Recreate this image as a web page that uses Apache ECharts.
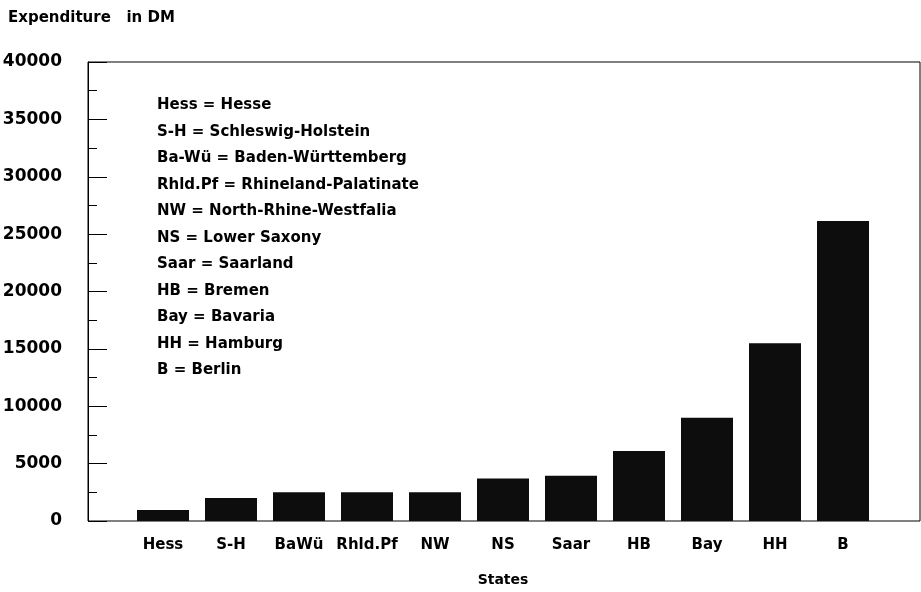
<!DOCTYPE html>
<html><head><meta charset="utf-8">
<script src="https://cdn.jsdelivr.net/npm/echarts@6/dist/echarts.min.js"></script>
<style>html,body{margin:0;padding:0;background:#fff}#c{width:921px;height:592px}</style>
</head><body><div id="c"></div>
<script>
const categories = ['Hess','S-H','BaWü','Rhld.Pf','NW','NS','Saar','HB','Bay','HH','B'];
const expenditure = [950, 2000, 2500, 2500, 2500, 3700, 3950, 6100, 9000, 15500, 26150];
const keyLines = [
  'Hess = Hesse',
  'S-H = Schleswig-Holstein',
  'Ba-Wü = Baden-Württemberg',
  'Rhld.Pf = Rhineland-Palatinate',
  'NW = North-Rhine-Westfalia',
  'NS = Lower Saxony',
  'Saar = Saarland',
  'HB = Bremen',
  'Bay = Bavaria',
  'HH = Hamburg',
  'B = Berlin'
];
const yMin = 0, yMax = 40000, yStep = 5000;
const FONT = '"DejaVu Sans", "Liberation Sans", Arial, sans-serif';
const chart = echarts.init(document.getElementById('c'), null, {renderer:'canvas'});
chart.setOption({
  animation: false,
  backgroundColor: '#fff',
  title: [
    {text: 'Expenditure   in DM', left: 3, top: 6, textStyle:{fontFamily:FONT, fontWeight:'bold', fontSize:15, color:'#000'}},
    {text: keyLines.join('\n'), left: 152, top: 87, textStyle:{fontFamily:FONT, fontWeight:'bold', fontSize:15, lineHeight:26.5, color:'#000'}}
  ],
  grid: [
    {left: 88, right: 1, top: 62, bottom: 71, show: true, borderColor: '#000', borderWidth: 1, outerBoundsMode: 'none', containLabel: false},
    {left: 129, right: 44, top: 62, bottom: 71, outerBoundsMode: 'none', containLabel: false}
  ],
  xAxis: [
    {gridIndex: 0, type: 'value', min: 0, max: 1, show: false},
    {gridIndex: 1, type: 'category', data: categories,
     axisLine:{show:false}, axisTick:{show:false},
     axisLabel:{interval: 0, margin: 17, fontFamily:FONT, fontWeight:'bold', fontSize:15, color:'#000'},
     name: 'States', nameLocation: 'middle', nameGap: 52,
     nameTextStyle:{fontFamily:FONT, fontWeight:'bold', fontSize:14, color:'#000'}}
  ],
  yAxis: [
    {gridIndex: 0, type: 'value', min: yMin, max: yMax, interval: yStep,
     axisLine:{show:true, lineStyle:{color:'#000', width:1}},
     axisTick:{show:true, inside:true, length:19, lineStyle:{color:'#000'}},
     minorTick:{show:true, splitNumber:2, length:9, lineStyle:{color:'#000'}},
     splitLine:{show:false},
     axisLabel:{margin: 26, padding:[4,0,0,0], fontFamily:FONT, fontWeight:'bold', fontSize:17, color:'#000',
       formatter: function(v){ return String(v); }}},
    {gridIndex: 1, type: 'value', min: yMin, max: yMax, show: false}
  ],
  series: [{
    type: 'bar', xAxisIndex: 1, yAxisIndex: 1, data: expenditure,
    barWidth: 52, itemStyle:{color:'#0d0d0d'}
  }]
});
</script></body></html>
